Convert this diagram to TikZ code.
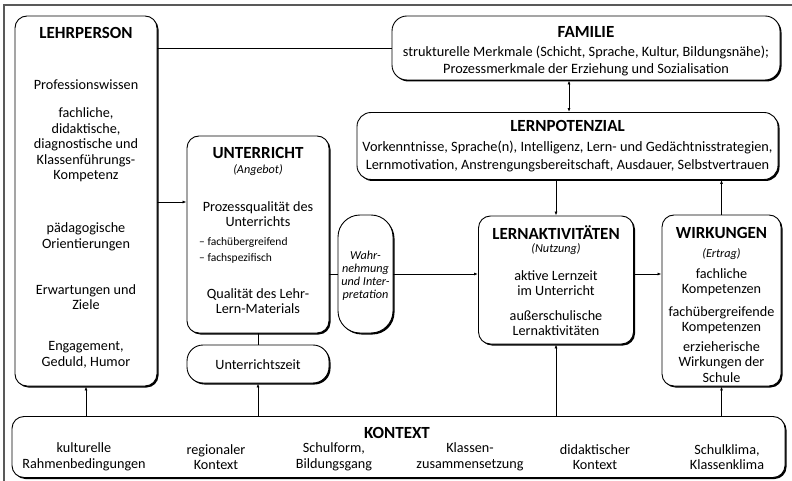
\documentclass[tikz,border=0pt]{standalone}
\usepackage{fontspec}
\setmainfont{Carlito}
\usetikzlibrary{shadows,arrows.meta}
\begin{document}
\begin{tikzpicture}[x=1bp,y=-1bp,
  box/.style={draw=black, line width=0.9bp, rounded corners=12bp, fill=white,
    drop shadow={shadow xshift=1.5bp, shadow yshift=-1.5bp, opacity=1, fill=black},
    inner sep=0pt},
  ttl/.style={font=\fontsize{17bp}{19bp}\selectfont\bfseries, inner sep=0pt},
  bd/.style={font=\fontsize{14.2bp}{15.5bp}\selectfont, align=center, inner sep=0pt},
  fm/.style={font=\fontsize{14.3bp}{17.5bp}\selectfont, align=center, inner sep=0pt},
  lpt/.style={font=\fontsize{14.3bp}{18.5bp}\selectfont, align=center, inner sep=0pt},
  itl/.style={font=\fontsize{12.2bp}{13bp}\selectfont\itshape, align=center, inner sep=0pt},
  sm/.style={font=\fontsize{11.5bp}{16bp}\selectfont, align=left, inner sep=0pt, anchor=west},
  con/.style={line width=0.8bp},
  arr/.style={line width=0.8bp, -{Latex[length=4bp,width=3bp]}},
  darr/.style={line width=0.8bp, {Latex[length=4bp,width=3bp]}-{Latex[length=4bp,width=3bp]}}
]
\useasboundingbox (0,0) rectangle (792,481);
% outer frame
\coordinate (f1) at (4,481);
\coordinate (f2) at (4,5);
\coordinate (f3) at (792,5);
\draw[line width=1.5bp, black!65] (f1) -- (f2) -- (f3);

% boxes
\node[box, minimum width=142bp, minimum height=370bp] (lehr) at (86,201) {};
\node[box, minimum width=388bp, minimum height=64bp, rounded corners=15bp] (fam) at (586,48) {};
\node[box, minimum width=421bp, minimum height=67bp, rounded corners=14bp] (lp) at (567.5,146) {};
\node[box, minimum width=142bp, minimum height=197bp] (unt) at (258,234.5) {};
\node[box, minimum width=142bp, minimum height=38bp, rounded corners=16bp] (uz) at (258,364) {};
\node[box, minimum width=55bp, minimum height=118bp, rounded corners=22bp] (wahr) at (365.5,274) {};
\node[box, minimum width=155bp, minimum height=128bp] (la) at (556,280) {};
\node[box, minimum width=119bp, minimum height=171bp] (wirk) at (721.5,300.5) {};
\node[box, minimum width=773bp, minimum height=61bp] (kon) at (398.5,447) {};

% LEHRPERSON
\node[ttl] (t1) at (86,33) {LEHRPERSON};
\node[bd] (l1) at (86,85) {Professionswissen};
\node[bd] (l2) at (86,145) {fachliche,\\didaktische,\\diagnostische und\\Klassenführungs-\\Kompetenz};
\node[bd] (l3) at (86,237) {pädagogische\\Orientierungen};
\node[bd] (l4) at (86,297) {Erwartungen und\\Ziele};
\node[bd] (l5) at (86,355) {Engagement,\\Geduld, Humor};

% FAMILIE
\node[ttl] (t2) at (586,32) {FAMILIE};
\node[fm] (f1t) at (586,61) {strukturelle Merkmale (Schicht, Sprache, Kultur, Bildungsnähe);\\Prozessmerkmale der Erziehung und Sozialisation};

% LERNPOTENZIAL
\node[ttl] (t3) at (567.5,126) {LERNPOTENZIAL};
\node[lpt] (p1) at (567.5,156.5) {Vorkenntnisse, Sprache(n), Intelligenz, Lern- und Gedächtnisstrategien,\\Lernmotivation, Anstrengungsbereitschaft, Ausdauer, Selbstvertrauen};

% UNTERRICHT
\node[ttl] (t4) at (258,153) {UNTERRICHT};
\node[itl] (u0) at (258,170) {(Angebot)};
\node[bd] (u1) at (258,214) {Prozessqualität des\\Unterrichts};
\node[sm] (u2) at (199,250) {-- fachübergreifend\\-- fachspezifisch};
\node[bd] (u3) at (258,301) {Qualität des Lehr-\\Lern-Materials};
\node[bd] (uzt) at (258,365) {Unterrichtszeit};

% Wahrnehmung
\node[itl] (w1) at (365.5,276) {Wahr-\\nehmung\\und Inter-\\pretation};

% LERNAKTIVITAETEN
\node[ttl] (t5) at (556,233) {LERNAKTIVITÄTEN};
\node[itl] (a0) at (556,249) {(Nutzung)};
\node[bd] (a1) at (556,283) {aktive Lernzeit\\im Unterricht};
\node[bd] (a2) at (556,323) {außerschulische\\Lernaktivitäten};

% WIRKUNGEN
\node[ttl] (t6) at (721.5,233) {WIRKUNGEN};
\node[itl] (e0) at (721.5,254) {(Ertrag)};
\node[bd] (e1) at (721.5,282) {fachliche\\Kompetenzen};
\node[bd] (e2) at (721.5,320) {fachübergreifende\\Kompetenzen};
\node[bd] (e3) at (721.5,362) {erzieherische\\Wirkungen der\\Schule};

% KONTEXT
\node[ttl] (t7) at (397,433) {KONTEXT};
\node[bd] (k1) at (84,457) {kulturelle\\Rahmenbedingungen};
\node[bd] (k2) at (216,457) {regionaler\\Kontext};
\node[bd] (k3) at (334,457) {Schulform,\\Bildungsgang};
\node[bd] (k4) at (470,457) {Klassen-\\zusammensetzung};
\node[bd] (k5) at (595,457) {didaktischer\\Kontext};
\node[bd] (k6) at (727,457) {Schulklima,\\Klassenklima};

% connectors
\coordinate (yA) at (0,202);
\coordinate (xF) at (569,0);
\draw[arr] (lehr.east |- yA) -- (unt.west |- yA);
\draw[con] (lehr.east |- fam.west) -- (fam.west);
\draw[con] (unt.east |- wahr.west) -- (wahr.west);
\draw[arr] (wahr.east) -- (la.west |- wahr.east);
\draw[arr] (la.east |- wahr.east) -- (wirk.west |- wahr.east);
\draw[darr] (fam.south -| xF) -- (lp.north -| xF);
\draw[arr] (lp.south -| la.north) -- (la.north);
\draw[arr] (wirk.north) -- (wirk.north |- lp.south);
\draw[con] (unt.south) -- (uz.north);
\draw[arr] (kon.north -| lehr.south) -- (lehr.south);
\draw[arr] (kon.north -| uz.south) -- (uz.south);
\draw[arr] (kon.north -| la.south) -- (la.south);
\draw[arr] (kon.north -| wirk.south) -- (wirk.south);
\end{tikzpicture}
\end{document}
